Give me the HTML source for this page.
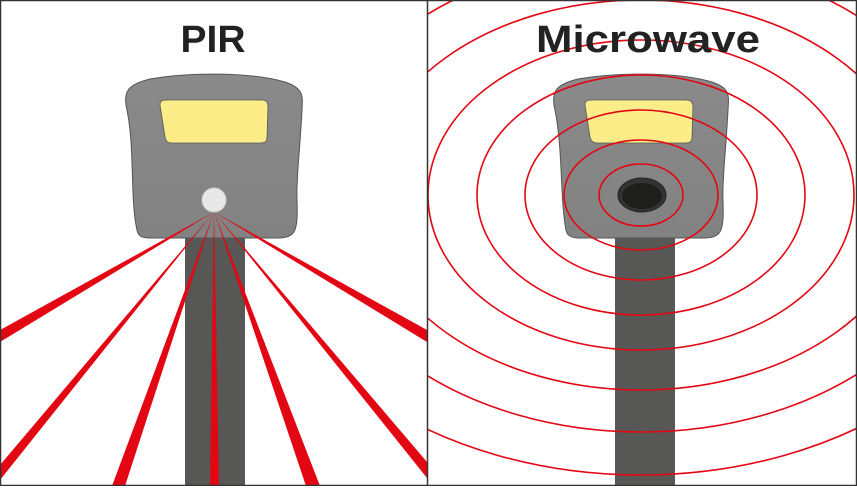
<!DOCTYPE html>
<html><head><style>body{margin:0;background:#fff}</style></head><body>
<svg width="857" height="486" viewBox="0 0 857 486" xmlns="http://www.w3.org/2000/svg">
<defs>
<linearGradient id="g" x1="0" y1="0" x2="0" y2="1"><stop offset="0" stop-color="#8a8a8a"/><stop offset="1" stop-color="#828282"/></linearGradient>
<clipPath id="cl"><rect x="1" y="1" width="426" height="484"/></clipPath>
<clipPath id="cr"><rect x="428" y="1" width="428" height="484"/></clipPath>
</defs>
<rect width="857" height="486" fill="#fff"/>
<!-- PIR -->
<g clip-path="url(#cl)">
<rect x="185" y="230" width="60" height="256" fill="#575755"/>
<path d="M137,230 C130,200 135,150 127,110 C122,90 130,84 150,79 C190,72 250,72 285,82 C303,88 303,95 302,110 C300,150 296,180 297,200 C298,230 296,237 280,238 L150,238 C140,238 138,235 137,230 Z" fill="url(#g)" stroke="#555" stroke-width="1"/>
<path d="M160,105 C160,100 163,100 168,100 L262,100 C267,100 268,103 268,107 L267,137 C267,142 265,143 260,143 L172,143 C167,143 166,141 165,137 Z" fill="#fded88" stroke="#555" stroke-width="0.8"/>
<circle cx="214" cy="200" r="12" fill="#e8e8e8" stroke="#ccc"/>
<g fill="#e30613">
<polygon points="214,212 0,330 0,342"/>
<polygon points="214,212 0,465 0,480"/>
<polygon points="214,212 112,486 125,486"/>
<polygon points="214,212 210,486 219,486"/>
<polygon points="214,212 306,486 320,486"/>
<polygon points="214,212 427,462 427,478"/>
<polygon points="214,212 427,330 427,342"/>
</g>
</g>
<text x="213" y="52" font-family="Liberation Sans, sans-serif" font-weight="bold" font-size="38" fill="#222" text-anchor="middle" textLength="65" lengthAdjust="spacingAndGlyphs">PIR</text>
<!-- Microwave -->
<g clip-path="url(#cr)">
<rect x="615" y="230" width="60" height="256" fill="#575755"/>
<path d="M566,230 C560,200 563,150 555,110 C550,90 558,84 578,79 C618,72 678,72 712,82 C730,88 729,95 728,110 C726,150 722,180 723,200 C724,230 722,237 706,238 L580,238 C570,238 567,235 566,230 Z" fill="url(#g)" stroke="#555" stroke-width="1"/>
<path d="M585,105 C585,100 588,100 593,100 L686,100 C691,100 693,103 693,107 L692,137 C692,142 690,143 685,143 L598,143 C593,143 591,141 590,137 Z" fill="#fded88" stroke="#555" stroke-width="0.8"/>
<ellipse cx="642" cy="195" rx="24" ry="17" fill="#333" stroke="#222"/>
<ellipse cx="642" cy="196" rx="20" ry="13" fill="#1e1e1c"/>
<g fill="none" stroke="#e30613" stroke-width="1.6">
<ellipse cx="641" cy="195" rx="42" ry="31"/>
<ellipse cx="641" cy="195" rx="77" ry="55"/>
<ellipse cx="641" cy="195" rx="116" ry="85"/>
<ellipse cx="641" cy="195" rx="164" ry="120"/>
<ellipse cx="641" cy="195" rx="213" ry="155"/>
<ellipse cx="641" cy="195" rx="275" ry="195"/>
<ellipse cx="641" cy="195" rx="330" ry="237"/>
<ellipse cx="641" cy="195" rx="390" ry="280"/>
</g>
</g>
<text x="648" y="52" font-family="Liberation Sans, sans-serif" font-weight="bold" font-size="38" fill="#222" text-anchor="middle" textLength="224" lengthAdjust="spacingAndGlyphs">Microwave</text>
<rect x="0.5" y="0.5" width="856" height="485" fill="none" stroke="#333" stroke-width="1.5"/>
<line x1="427.5" y1="0" x2="427.5" y2="486" stroke="#333" stroke-width="1.5"/>
</svg>
</body></html>
